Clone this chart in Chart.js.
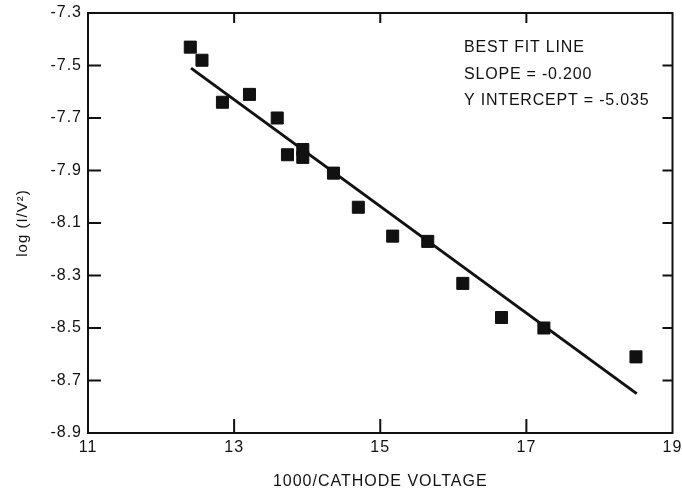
<!DOCTYPE html>
<html>
<head>
<meta charset="utf-8">
<script src="https://cdn.jsdelivr.net/npm/chart.js@4/dist/chart.umd.min.js"></script>
<style>
  body { margin: 0; background: #fff; }
  #wrap { width: 682px; height: 491px; }
</style>
</head>
<body>
<div id="wrap"><canvas id="chart" width="682" height="491"></canvas></div>
<script>
// measured points: 1000/cathode voltage vs log(I/V^2)
const voltX = [12.40, 12.56, 12.84, 13.21, 13.59, 13.73, 13.94, 13.94, 14.36, 14.70, 15.17, 15.65, 16.13, 16.66, 17.24, 18.50];
const logY  = [-7.43, -7.48, -7.64, -7.61, -7.70, -7.84, -7.82, -7.85, -7.91, -8.04, -8.15, -8.17, -8.33, -8.46, -8.50, -8.61];

// best fit line ends
const fitX = [12.41, 18.51];
const fitY = [-7.51, -8.75];

const fitNotes = ["BEST FIT LINE", "SLOPE = -0.200", "Y INTERCEPT = -5.035"];

const INK = "#111";
const FONT = "'Liberation Sans', Arial, sans-serif";

// old typeset labels are spaced out a bit
const spacing = {
  id: "spacing",
  beforeUpdate(c) { c.ctx.letterSpacing = "1px"; },
  beforeDraw(c) { c.ctx.letterSpacing = "1px"; }
};

// frame + inward tick marks on all four sides
const frame = {
  id: "frame",
  afterDraw(c) {
    const { ctx, chartArea: a, scales } = c;
    ctx.save();
    ctx.strokeStyle = INK;
    ctx.lineWidth = 2;
    ctx.strokeRect(a.left, a.top, a.right - a.left, a.bottom - a.top);
    ctx.beginPath();
    scales.y.ticks.forEach(t => {
      const p = scales.y.getPixelForValue(t.value);
      if (p <= a.top + 3 || p >= a.bottom - 3) return;
      ctx.moveTo(a.left, p); ctx.lineTo(a.left + 13, p);
      ctx.moveTo(a.right, p); ctx.lineTo(a.right - 10, p);
    });
    scales.x.ticks.forEach(t => {
      const p = scales.x.getPixelForValue(t.value);
      if (p <= a.left + 3 || p >= a.right - 3) return;
      ctx.moveTo(p, a.bottom); ctx.lineTo(p, a.bottom - 14);
      ctx.moveTo(p, a.top); ctx.lineTo(p, a.top + 10);
    });
    ctx.stroke();

    // annotation text
    ctx.fillStyle = INK;
    ctx.font = "16px " + FONT;
    ctx.letterSpacing = "0.8px";
    ctx.textBaseline = "middle";
    fitNotes.forEach((s, i) => ctx.fillText(s, 464, 48 + i * 26.5));
    ctx.restore();
  }
};

new Chart(document.getElementById("chart"), {
  type: "scatter",
  data: {
    datasets: [
      {
        label: "fit",
        type: "line",
        data: fitX.map((x, i) => ({ x, y: fitY[i] })),
        borderColor: INK,
        borderWidth: 3,
        pointRadius: 0,
        fill: false
      },
      {
        label: "data",
        data: voltX.map((x, i) => ({ x, y: logY[i] })),
        pointStyle: "rect",
        pointRadius: 8.5,
        pointBorderWidth: 1,
        backgroundColor: INK,
        borderColor: INK
      }
    ]
  },
  options: {
    responsive: false,
    animation: false,
    layout: { padding: { top: 13, right: 7, left: 0, bottom: 0 } },
    plugins: { legend: { display: false }, tooltip: { enabled: false } },
    scales: {
      x: {
        type: "linear",
        min: 11, max: 19,
        grid: { display: false, drawTicks: false },
        border: { display: false },
        ticks: { stepSize: 2, color: INK, font: { family: FONT, size: 16 }, padding: 5 },
        title: { display: true, text: "1000/CATHODE VOLTAGE", color: INK, font: { family: FONT, size: 16 }, padding: { top: 6, bottom: 0 } },
        afterFit(s) { s.height = 58; s.paddingLeft = 0; s.paddingRight = 0; }
      },
      y: {
        min: -8.9, max: -7.3,
        grid: { display: false, drawTicks: false },
        border: { display: false },
        ticks: {
          stepSize: 0.2, color: INK, font: { family: FONT, size: 16 }, padding: 6,
          callback: v => v.toFixed(1)
        },
        title: { display: true, text: "log (I/V²)", color: INK, font: { family: FONT, size: 15 }, padding: { top: 14, bottom: 0 } },
        afterFit(s) { s.width = 88; s.paddingTop = 0; s.paddingBottom = 0; }
      }
    }
  },
  plugins: [spacing, frame]
});
</script>
</body>
</html>
